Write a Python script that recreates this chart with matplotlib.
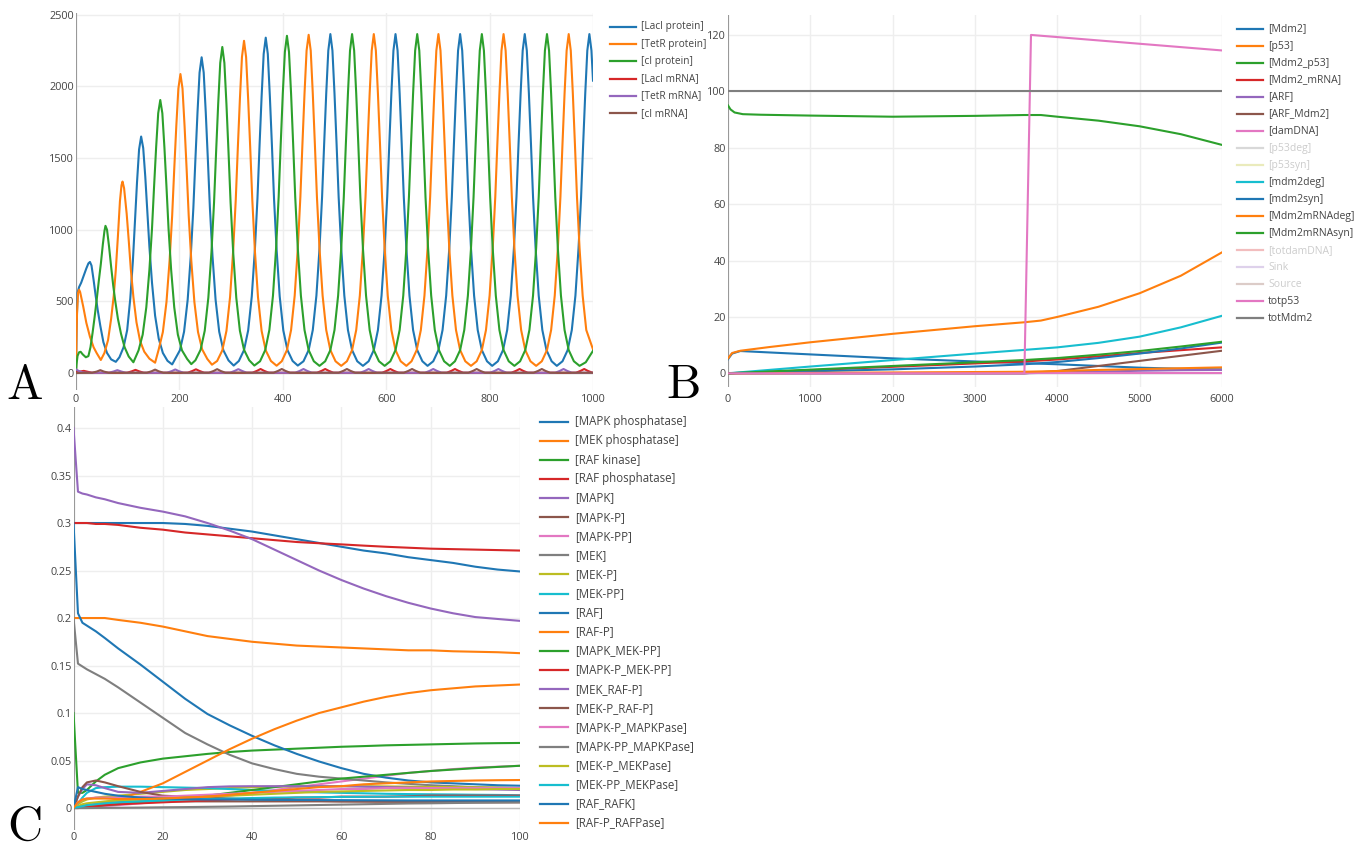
import matplotlib.pyplot as plt
from matplotlib.lines import Line2D

plt.rcParams['font.family'] = ['Open Sans', 'DejaVu Sans']

W, H = 1368, 848
palette = plt.rcParams['axes.prop_cycle'].by_key()['color']

# ---------------- panel A: repressilator ----------------
labels_a = ['[LacI protein]', '[TetR protein]', '[cI protein]',
            '[LacI mRNA]', '[TetR mRNA]', '[cI mRNA]']

laci_protein = [
    (0, 0), (1, 300), (3, 560), (6, 600), (10, 630), (15, 680), (20, 730), (24, 765), (27, 775),
    (30, 750), (34, 650), (38, 540), (42, 440), (47, 330), (53, 215), (60, 140), (68, 95), (77, 78),
    (84, 110), (92, 180), (99, 300), (105, 520), (110, 780), (114, 1050), (118, 1330), (122, 1560),
    (126, 1650), (130, 1570), (134, 1370), (138, 1130), (142, 880), (147, 630), (153, 400), (160, 240),
    (168, 140), (177, 85), (186, 60),
    (201, 159), (209, 288), (216, 511), (222, 817), (227, 1152), (231, 1495), (235, 1817), (239, 2096),
    (243, 2203), (247, 2096), (251, 1817), (255, 1495), (259, 1152), (264, 817), (270, 511), (277, 288),
    (285, 159), (295, 88), (305, 52),
    (315, 84), (325, 160), (333, 297), (340, 535), (346, 862), (351, 1219), (355, 1585), (359, 1928),
    (363, 2226), (367, 2340), (371, 2226), (375, 1928), (379, 1585), (383, 1219), (388, 862), (394, 535),
    (401, 297), (409, 160), (419, 84), (429, 52),
    (440, 82), (450, 160), (458, 300), (465, 540), (471, 870), (476, 1230), (480, 1600), (484, 1950),
    (488, 2250), (492, 2365), (496, 2250), (500, 1950), (504, 1600), (508, 1230), (513, 870), (519, 540),
    (526, 300), (534, 160), (544, 82), (555, 50),
    (566, 82), (576, 160), (584, 300), (591, 540), (597, 870), (602, 1230), (606, 1600), (610, 1950),
    (614, 2250), (618, 2365), (622, 2250), (626, 1950), (630, 1600), (634, 1230), (639, 870), (645, 540),
    (652, 300), (660, 160), (670, 82), (680, 50),
    (691, 82), (701, 160), (709, 300), (716, 540), (722, 870), (727, 1230), (731, 1600), (735, 1950),
    (739, 2250), (743, 2365), (747, 2250), (751, 1950), (755, 1600), (759, 1230), (764, 870), (770, 540),
    (777, 300), (785, 160), (795, 82), (805, 50),
    (816, 82), (826, 160), (834, 300), (841, 540), (847, 870), (852, 1230), (856, 1600), (860, 1950),
    (864, 2250), (868, 2365), (872, 2250), (876, 1950), (880, 1600), (884, 1230), (889, 870), (895, 540),
    (902, 300), (910, 160), (920, 82), (930, 50),
    (941, 82), (951, 160), (959, 300), (966, 540), (972, 870), (977, 1230), (981, 1600), (985, 1950),
    (989, 2250), (993, 2365), (997, 2250), (1000, 2040)]

tetr_protein = [
    (0, 0), (1, 250), (2, 420), (4, 560), (6, 581), (8, 565), (11, 515), (14, 463), (20, 350), (27, 253),
    (34, 180), (40, 139), (48, 91),
    (55, 140), (62, 230), (68, 380), (73, 540), (77, 720), (81, 950), (85, 1200), (88, 1310), (90, 1336),
    (93, 1290), (98, 1112), (102, 925), (106, 725), (111, 531), (117, 353), (124, 223), (132, 149),
    (142, 100), (153, 72),
    (160, 165), (168, 286), (175, 495), (181, 784), (186, 1098), (190, 1421), (194, 1723), (198, 1985),
    (202, 2086), (206, 1985), (210, 1723), (214, 1421), (218, 1098), (223, 784), (229, 495), (236, 286),
    (244, 165), (254, 98), (263, 58),
    (273, 84), (283, 158), (291, 294), (298, 530), (304, 854), (309, 1208), (313, 1570), (317, 1910),
    (321, 2205), (325, 2318), (329, 2205), (333, 1910), (337, 1570), (341, 1208), (346, 854), (352, 530),
    (359, 294), (367, 158), (377, 84), (388, 51),
    (398, 82), (408, 160), (416, 300), (423, 540), (429, 870), (434, 1230), (438, 1600), (442, 1950),
    (446, 2250), (450, 2360), (454, 2250), (458, 1950), (462, 1600), (466, 1230), (471, 870), (477, 540),
    (484, 300), (492, 160), (502, 82), (513, 50),
    (524, 82), (534, 160), (542, 300), (549, 540), (555, 870), (560, 1230), (564, 1600), (568, 1950),
    (572, 2250), (576, 2365), (580, 2250), (584, 1950), (588, 1600), (592, 1230), (597, 870), (603, 540),
    (610, 300), (618, 160), (628, 82), (639, 50),
    (649, 82), (659, 160), (667, 300), (674, 540), (680, 870), (685, 1230), (689, 1600), (693, 1950),
    (697, 2250), (701, 2365), (705, 2250), (709, 1950), (713, 1600), (717, 1230), (722, 870), (728, 540),
    (735, 300), (743, 160), (753, 82), (764, 50),
    (775, 82), (785, 160), (793, 300), (800, 540), (806, 870), (811, 1230), (815, 1600), (819, 1950),
    (823, 2250), (827, 2365), (831, 2250), (835, 1950), (839, 1600), (843, 1230), (848, 870), (854, 540),
    (861, 300), (869, 160), (879, 82), (890, 50),
    (901, 82), (911, 160), (919, 300), (926, 540), (932, 870), (937, 1230), (941, 1600), (945, 1950),
    (949, 2250), (953, 2365), (957, 2250), (961, 1950), (965, 1600), (969, 1230), (974, 870), (980, 540),
    (987, 300), (1000, 165)]

ci_protein = [
    (0, 0), (1, 60), (3, 120), (6, 145), (9, 148), (13, 130), (19, 110), (24, 118), (28, 180), (32, 279),
    (36, 390), (40, 511), (44, 640), (48, 760), (52, 900), (55, 990), (57, 1027), (60, 1000), (64, 880),
    (68, 740), (72, 610), (76, 500), (81, 380), (87, 275), (94, 180), (102, 115), (111, 75),
    (121, 158), (129, 268), (136, 459), (142, 721), (147, 1007), (151, 1300), (155, 1575), (159, 1813),
    (163, 1905), (167, 1813), (171, 1575), (175, 1300), (179, 1007), (184, 721), (190, 459), (197, 268),
    (205, 158), (215, 98), (223, 62),
    (231, 89), (241, 162), (249, 295), (256, 526), (262, 843), (267, 1189), (271, 1543), (275, 1876),
    (279, 2164), (283, 2275), (287, 2164), (291, 1876), (295, 1543), (299, 1189), (304, 843), (310, 526),
    (317, 295), (325, 162), (335, 89), (345, 52),
    (356, 82), (366, 160), (374, 300), (381, 540), (387, 870), (392, 1230), (396, 1600), (400, 1950),
    (404, 2240), (408, 2353), (412, 2240), (416, 1950), (420, 1600), (424, 1230), (429, 870), (435, 540),
    (442, 300), (450, 160), (460, 82), (471, 50),
    (482, 82), (492, 160), (500, 300), (507, 540), (513, 870), (518, 1230), (522, 1600), (526, 1950),
    (530, 2250), (534, 2365), (538, 2250), (542, 1950), (546, 1600), (550, 1230), (555, 870), (561, 540),
    (568, 300), (576, 160), (586, 82), (597, 50),
    (608, 82), (618, 160), (626, 300), (633, 540), (639, 870), (644, 1230), (648, 1600), (652, 1950),
    (656, 2250), (660, 2365), (664, 2250), (668, 1950), (672, 1600), (676, 1230), (681, 870), (687, 540),
    (694, 300), (702, 160), (712, 82), (723, 50),
    (733, 82), (743, 160), (751, 300), (758, 540), (764, 870), (769, 1230), (773, 1600), (777, 1950),
    (781, 2250), (785, 2365), (789, 2250), (793, 1950), (797, 1600), (801, 1230), (806, 870), (812, 540),
    (819, 300), (827, 160), (837, 82), (848, 50),
    (859, 82), (869, 160), (877, 300), (884, 540), (890, 870), (895, 1230), (899, 1600), (903, 1950),
    (907, 2250), (911, 2365), (915, 2250), (919, 1950), (923, 1600), (927, 1230), (932, 870), (938, 540),
    (945, 300), (953, 160), (963, 82), (974, 50), (986, 75), (1000, 155)]

laci_mrna = [
    (0, 5), (15, 15), (31, 2), (99, 2), (108, 12), (115, 22), (122, 12), (131, 2), (216, 2), (225, 14),
    (232, 26), (239, 14), (248, 2), (341, 2), (350, 15), (357, 28), (364, 15), (373, 2), (466, 2),
    (475, 15), (482, 28), (489, 15), (498, 2), (592, 2), (601, 15), (608, 28), (615, 15), (624, 2),
    (717, 2), (726, 15), (733, 28), (740, 15), (749, 2), (842, 2), (851, 15), (858, 28), (865, 15),
    (874, 2), (967, 2), (976, 15), (983, 28), (990, 15), (999, 2), (1000, 2)]

tetr_mrna = [
    (0, 25), (5, 15), (12, 5), (20, 2), (64, 2), (73, 11), (80, 20), (87, 11), (96, 2), (176, 2),
    (185, 13), (192, 25), (199, 13), (208, 2), (298, 2), (307, 15), (314, 27), (321, 15), (330, 2),
    (424, 2), (433, 15), (440, 28), (447, 15), (456, 2), (550, 2), (559, 15), (566, 28), (573, 15),
    (582, 2), (675, 2), (684, 15), (691, 28), (698, 15), (707, 2), (801, 2), (810, 15), (817, 28),
    (824, 15), (833, 2), (927, 2), (936, 15), (943, 28), (950, 15), (959, 2), (1000, 2)]

ci_mrna = [
    (0, 0), (31, 2), (40, 10), (47, 20), (54, 10), (63, 2), (137, 2), (146, 12), (153, 24), (160, 12),
    (169, 2), (257, 2), (266, 14), (273, 27), (280, 14), (289, 2), (382, 2), (391, 15), (398, 28),
    (405, 15), (414, 2), (508, 2), (517, 15), (524, 28), (531, 15), (540, 2), (634, 2), (643, 15),
    (650, 28), (657, 15), (666, 2), (759, 2), (768, 15), (775, 28), (782, 15), (791, 2), (885, 2),
    (894, 15), (901, 28), (908, 15), (917, 2), (1000, 2)]

series_a = [laci_protein, tetr_protein, ci_protein, laci_mrna, tetr_mrna, ci_mrna]

# ---------------- panel B: p53 / Mdm2 ----------------
labels_b = ['[Mdm2]', '[p53]', '[Mdm2_p53]', '[Mdm2_mRNA]', '[ARF]', '[ARF_Mdm2]', '[damDNA]',
            '[p53deg]', '[p53syn]', '[mdm2deg]', '[mdm2syn]', '[Mdm2mRNAdeg]', '[Mdm2mRNAsyn]',
            '[totdamDNA]', 'Sink', 'Source', 'totp53', 'totMdm2']
hidden_b = ['[p53deg]', '[p53syn]', '[totdamDNA]', 'Sink', 'Source']

tB = [0, 1000, 2000, 3000, 3600, 4000, 4500, 5000, 5500, 6000]
mdm2 = ([0, 50, 150, 500, 1000, 2000, 3000, 3600, 4000, 4500, 5000, 5500, 6000],
        [5.0, 7.0, 7.9, 7.4, 6.7, 5.3, 4.2, 3.6, 3.2, 2.6, 2.0, 1.6, 1.4])
p53 = ([0, 50, 150, 500, 1000, 2000, 3000, 3600, 3800, 4000, 4500, 5000, 5500, 6000],
       [5.3, 7.2, 8.0, 9.3, 11.0, 14.0, 16.7, 18.1, 18.7, 20.0, 23.6, 28.4, 34.6, 42.9])
mdm2_p53 = ([0, 30, 80, 180, 400, 1000, 2000, 3000, 3600, 3800, 4000, 4500, 5000, 5500, 6000],
            [95.0, 93.6, 92.5, 91.9, 91.7, 91.4, 91.0, 91.3, 91.6, 91.6, 91.0, 89.6, 87.6, 84.8, 81.0])
mdm2_mrna = (tB, [0, 1.1, 2.3, 3.5, 4.2, 4.9, 6.0, 7.2, 8.2, 9.2])
arf = (tB, [0, 0, 0, 0, 0, 0.3, 0.6, 0.9, 1.1, 1.2])
arf_mdm2 = (tB, [0, 0, 0, 0, 0, 0.8, 2.6, 4.4, 6.2, 8.0])
damdna = (tB, [0, 0, 0, 0, 0, 0, 0, 0, 0, 0])
mdm2deg = (tB, [0, 2.4, 4.7, 7.0, 8.3, 9.2, 10.8, 13.0, 16.3, 20.4])
mdm2syn = (tB, [0, 0.7, 1.4, 2.4, 3.2, 4.0, 5.4, 7.0, 8.8, 10.9])
mdm2mrnadeg = (tB, [0, 0.15, 0.3, 0.45, 0.55, 0.8, 1.2, 1.5, 1.8, 2.1])
mdm2mrnasyn = (tB, [0, 1.3, 2.6, 3.9, 4.7, 5.4, 6.6, 7.9, 9.5, 11.2])
totp53 = ([0, 3600, 3680, 6000], [0, 0, 120, 114.5])
totmdm2 = ([0, 6000], [100, 100])

series_b = {'[Mdm2]': mdm2, '[p53]': p53, '[Mdm2_p53]': mdm2_p53, '[Mdm2_mRNA]': mdm2_mrna,
            '[ARF]': arf, '[ARF_Mdm2]': arf_mdm2, '[damDNA]': damdna, '[mdm2deg]': mdm2deg,
            '[mdm2syn]': mdm2syn, '[Mdm2mRNAdeg]': mdm2mrnadeg, '[Mdm2mRNAsyn]': mdm2mrnasyn,
            'totp53': totp53, 'totMdm2': totmdm2}

# ---------------- panel C: MAPK cascade ----------------
labels_c = ['[MAPK phosphatase]', '[MEK phosphatase]', '[RAF kinase]', '[RAF phosphatase]', '[MAPK]',
            '[MAPK-P]', '[MAPK-PP]', '[MEK]', '[MEK-P]', '[MEK-PP]', '[RAF]', '[RAF-P]',
            '[MAPK_MEK-PP]', '[MAPK-P_MEK-PP]', '[MEK_RAF-P]', '[MEK-P_RAF-P]', '[MAPK-P_MAPKPase]',
            '[MAPK-PP_MAPKPase]', '[MEK-P_MEKPase]', '[MEK-PP_MEKPase]', '[RAF_RAFK]', '[RAF-P_RAFPase]']

tC = [0, 1, 2, 3, 5, 7, 10, 15, 20, 25, 30, 35, 40, 45, 50, 55, 60, 65, 70, 75, 80, 85, 90, 95, 100]
values_c = [
    [0.300, 0.300, 0.300, 0.300, 0.300, 0.300, 0.300, 0.300, 0.300, 0.299, 0.297, 0.294, 0.291, 0.287,
     0.283, 0.279, 0.275, 0.271, 0.268, 0.264, 0.261, 0.258, 0.254, 0.251, 0.249],
    [0.200, 0.200, 0.200, 0.200, 0.200, 0.200, 0.198, 0.195, 0.191, 0.186, 0.181, 0.178, 0.175, 0.173,
     0.171, 0.170, 0.169, 0.168, 0.167, 0.166, 0.166, 0.165, 0.1645, 0.164, 0.163],
    [0.100, 0.016, 0.016, 0.019, 0.028, 0.035, 0.042, 0.048, 0.052, 0.0545, 0.057, 0.059, 0.0605, 0.0615,
     0.0625, 0.0635, 0.0645, 0.0652, 0.066, 0.0665, 0.067, 0.0675, 0.068, 0.0683, 0.0685],
    [0.300, 0.300, 0.300, 0.300, 0.299, 0.299, 0.298, 0.295, 0.293, 0.290, 0.288, 0.286, 0.284, 0.282,
     0.280, 0.2787, 0.2775, 0.2762, 0.275, 0.274, 0.273, 0.2725, 0.272, 0.2715, 0.271],
    [0.400, 0.333, 0.331, 0.330, 0.327, 0.325, 0.321, 0.316, 0.312, 0.307, 0.300, 0.292, 0.283, 0.272,
     0.261, 0.250, 0.240, 0.231, 0.223, 0.216, 0.210, 0.205, 0.201, 0.199, 0.197],
    [0, 0.001, 0.002, 0.003, 0.004, 0.005, 0.006, 0.007, 0.007, 0.007, 0.007, 0.007, 0.007, 0.007,
     0.007, 0.007, 0.007, 0.007, 0.007, 0.007, 0.007, 0.007, 0.007, 0.007, 0.007],
    [0, 0, 0.0002, 0.0005, 0.001, 0.002, 0.003, 0.005, 0.007, 0.009, 0.011, 0.013, 0.016, 0.019,
     0.022, 0.025, 0.028, 0.031, 0.034, 0.037, 0.039, 0.041, 0.0425, 0.0435, 0.0445],
    [0.200, 0.152, 0.149, 0.146, 0.141, 0.136, 0.127, 0.111, 0.095, 0.079, 0.067, 0.056, 0.047, 0.041,
     0.036, 0.033, 0.031, 0.029, 0.027, 0.0255, 0.024, 0.023, 0.022, 0.0215, 0.021],
    [0, 0.004, 0.007, 0.009, 0.011, 0.012, 0.013, 0.015, 0.017, 0.019, 0.020, 0.021, 0.022, 0.0225,
     0.0228, 0.023, 0.023, 0.023, 0.0228, 0.0225, 0.0222, 0.022, 0.0218, 0.0215, 0.021],
    [0, 0.005, 0.011, 0.016, 0.021, 0.022, 0.0225, 0.0225, 0.022, 0.0215, 0.021, 0.020, 0.019, 0.018,
     0.0172, 0.0165, 0.016, 0.0155, 0.015, 0.0147, 0.0145, 0.0143, 0.014, 0.0138, 0.0135],
    [0.300, 0.205, 0.195, 0.192, 0.186, 0.179, 0.168, 0.151, 0.133, 0.115, 0.099, 0.087, 0.076, 0.066,
     0.057, 0.049, 0.042, 0.036, 0.032, 0.029, 0.027, 0.026, 0.025, 0.024, 0.0235],
    [0, 0.0005, 0.001, 0.002, 0.004, 0.006, 0.009, 0.017, 0.026, 0.038, 0.050, 0.062, 0.073, 0.083,
     0.092, 0.100, 0.106, 0.112, 0.117, 0.121, 0.124, 0.126, 0.128, 0.129, 0.130],
    [0, 0.0005, 0.001, 0.0015, 0.002, 0.003, 0.004, 0.006, 0.008, 0.010, 0.013, 0.016, 0.019, 0.022,
     0.025, 0.028, 0.031, 0.033, 0.035, 0.037, 0.039, 0.0405, 0.042, 0.0433, 0.0445],
    [0, 0, 0.0005, 0.001, 0.002, 0.003, 0.004, 0.005, 0.006, 0.007, 0.008, 0.009, 0.010, 0.010,
     0.011, 0.011, 0.012, 0.012, 0.012, 0.0125, 0.013, 0.013, 0.013, 0.013, 0.013],
    [0, 0.012, 0.020, 0.025, 0.024, 0.021, 0.017, 0.016, 0.018, 0.020, 0.022, 0.0228, 0.023, 0.023,
     0.023, 0.023, 0.023, 0.0225, 0.022, 0.0215, 0.021, 0.0205, 0.020, 0.0195, 0.019],
    [0, 0.012, 0.022, 0.027, 0.029, 0.027, 0.023, 0.017, 0.013, 0.012, 0.011, 0.010, 0.009, 0.0085,
     0.008, 0.0075, 0.007, 0.0068, 0.0066, 0.0064, 0.0062, 0.006, 0.006, 0.006, 0.006],
    [0, 0.006, 0.009, 0.010, 0.011, 0.011, 0.011, 0.012, 0.012, 0.013, 0.014, 0.015, 0.016, 0.017,
     0.018, 0.019, 0.020, 0.020, 0.021, 0.021, 0.021, 0.021, 0.021, 0.021, 0.021],
    [0, 0, 0, 0, 0.0001, 0.0002, 0.0003, 0.0005, 0.0008, 0.001, 0.0013, 0.0016, 0.002, 0.0024,
     0.0028, 0.0032, 0.0036, 0.004, 0.0044, 0.0048, 0.005, 0.0053, 0.0056, 0.0058, 0.006],
    [0, 0.002, 0.004, 0.005, 0.006, 0.007, 0.008, 0.009, 0.010, 0.011, 0.012, 0.013, 0.014, 0.015,
     0.016, 0.017, 0.0175, 0.018, 0.0185, 0.019, 0.019, 0.0195, 0.0195, 0.020, 0.020],
    [0, 0.001, 0.002, 0.003, 0.004, 0.005, 0.006, 0.007, 0.008, 0.009, 0.0095, 0.010, 0.0105, 0.011,
     0.0112, 0.0115, 0.0117, 0.0118, 0.012, 0.012, 0.012, 0.012, 0.012, 0.012, 0.012],
    [0, 0.022, 0.020, 0.019, 0.017, 0.015, 0.013, 0.011, 0.010, 0.0095, 0.009, 0.009, 0.0088, 0.0086,
     0.0085, 0.0084, 0.0083, 0.0082, 0.0081, 0.008, 0.008, 0.008, 0.008, 0.008, 0.008],
    [0, 0.006, 0.009, 0.010, 0.010, 0.010, 0.0095, 0.0095, 0.010, 0.011, 0.012, 0.014, 0.016, 0.018,
     0.020, 0.022, 0.023, 0.025, 0.026, 0.027, 0.028, 0.0285, 0.029, 0.0293, 0.0295],
]

fig = plt.figure(figsize=(W / 100, H / 100), dpi=100)


def px_axes(x0, y0, x1, y1):
    return fig.add_axes([x0 / W, 1 - y1 / H, (x1 - x0) / W, (y1 - y0) / H])


def style(ax, xticks, yticks, ylabels, xpad):
    ax.set_xticks(xticks)
    ax.set_yticks(yticks)
    ax.set_yticklabels(ylabels)
    for s in ax.spines.values():
        s.set_visible(False)
    ax.grid(True, color='#eeeeee', lw=1.0)
    ax.set_axisbelow(True)
    ax.tick_params(length=0, labelsize=7.8, colors='#444444')
    ax.tick_params(axis='y', pad=1.5)
    ax.tick_params(axis='x', pad=xpad)
    ax.axvline(0, color='#999999', lw=1.5, zorder=1)
    ax.axhline(0, color='#bbbbbb', lw=1.0, zorder=1)


def legend_column(x_line, x_text, y_first, dy, labels, colors, size, faded=()):
    for i, (lab, col) in enumerate(zip(labels, colors)):
        y = 1 - (y_first + i * dy) / H
        off = lab in faded
        fig.add_artist(Line2D([x_line[0] / W, x_line[1] / W], [y, y], transform=fig.transFigure,
                              color=col, lw=1.6, alpha=0.3 if off else 1))
        fig.text(x_text / W, y, lab, ha='left', va='center', fontsize=size,
                 color='#cccccc' if off else '#444444')


# panel A
axA = px_axes(76, 13.3, 593, 389.5)
for i, pts in enumerate(series_a):
    axA.plot([p[0] for p in pts], [p[1] for p in pts], color=palette[i], lw=1.5, zorder=3)
axA.set_xlim(0, 1000)
axA.set_ylim(-115, 2510)
style(axA, range(0, 1001, 200), range(0, 2501, 500), [str(v) for v in range(0, 2501, 500)], 3.6)
legend_column((610, 636), 641, 26.7, 17.33, labels_a, palette[:6], 7.3)

# panel B
axB = px_axes(728, 15.2, 1222, 387.4)
colors_b = []
for i, lab in enumerate(labels_b):
    col = palette[i % 10]
    colors_b.append(col)
    if lab in series_b:
        t, v = series_b[lab]
        axB.plot(t, v, color=col, lw=1.5, zorder=3)
axB.set_xlim(0, 6000)
axB.set_ylim(-5, 127)
style(axB, range(0, 6001, 1000), range(0, 121, 20), [str(v) for v in range(0, 121, 20)], 5)
legend_column((1237, 1263), 1268, 29, 17.02, labels_b, colors_b, 7.5, hidden_b)

# panel C
axC = px_axes(73.5, 407.1, 520, 829.9)
colors_c = []
for i, vals in enumerate(values_c):
    col = palette[i % 10]
    colors_c.append(col)
    axC.plot(tC, vals, color=col, lw=1.5, zorder=3)
axC.set_xlim(0, 100)
axC.set_ylim(-0.023, 0.422)
yt = [0, 0.05, 0.1, 0.15, 0.2, 0.25, 0.3, 0.35, 0.4]
style(axC, range(0, 101, 20), yt, ['0', '0.05', '0.1', '0.15', '0.2', '0.25', '0.3', '0.35', '0.4'], 1.8)
legend_column((540, 568), 575, 421.5, 19.12, labels_c, colors_c, 8.3)

# panel letters
for letter, (x, y) in {'A': (25, 387), 'B': (684, 386), 'C': (25, 828)}.items():
    fig.text(x / W, 1 - y / H, letter, ha='center', va='center', fontsize=35,
             family='cmr10', color='black')

fig.savefig('out.png', dpi=100)
